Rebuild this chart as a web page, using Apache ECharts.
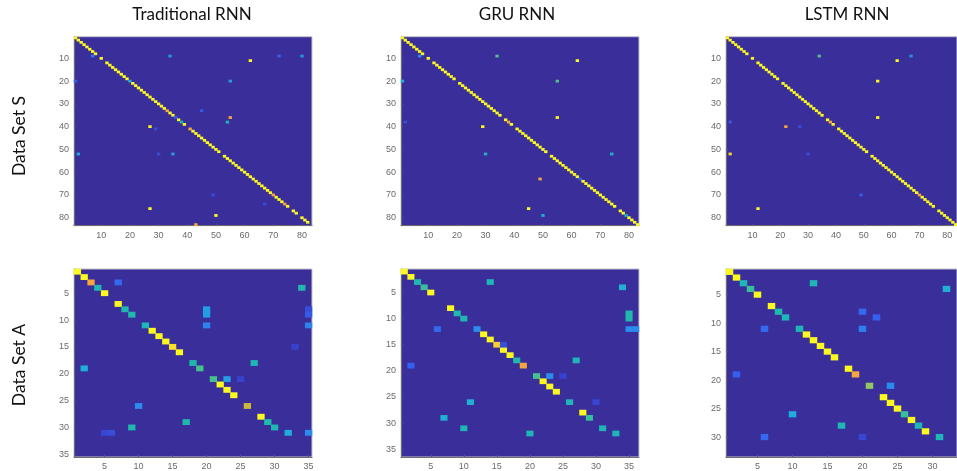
<!DOCTYPE html>
<html>
<head>
<meta charset="utf-8">
<style>
html,body{margin:0;padding:0;background:#fff;overflow:hidden}
#chart{width:957px;height:471px;filter:blur(0.35px)}
</style>
<script src="https://cdn.jsdelivr.net/npm/echarts@6/dist/echarts.min.js"></script>
</head>
<body>
<div id="chart"></div>
<script>
const columnTitles = ['Traditional RNN', 'GRU RNN', 'LSTM RNN'];
const rowTitles = ['Data Set S', 'Data Set A'];
const colorStops = ['#3A2E9B','#3A3BC4','#3560EE','#2A8CEC','#1FAEDC','#1FB8AC','#4EC388','#92C660','#CDB83A','#F7A63F','#FBF91F'];

const ticksS = [10,20,30,40,50,60,70,80];
const ticksA = [5,10,15,20,25,30,35];
const ticksA3 = [5,10,15,20,25,30];

const diagS1 = [1,1,1,1,1,1,1,1,0,1, 0,1,1,1,1,1,1,1,1,.4, 1,1,1,1,1,1,1,1,1,1, 1,1,.9,1,1,.2,1,.5,1,0,
  .9,1,1,1,1,1,1,1,1,1, 1,0,1,1,1,1,1,1,1,1, 1,1,1,1,1,1,1,1,1,.9, 1,1,1,.9,1,0,1,1,0,1, 1,1,0];
const offS1 = [[7,9,.25],[34,9,.32],[72,9,.2],[80,9,.32],[62,11,1],[1,20,.2],[55,20,.35],[45,33,.18],[55,36,.9],[54,38,.5],[27,40,1],[29,41,.15],[2,52,.38],[30,52,.15],[35,52,.35],[49,70,.15],[67,74,.15],[27,76,1],[50,79,1],[43,83,.9]];

const diagS2 = [1,1,1,1,1,1,1,1,0,1, 0,1,1,1,1,1,1,1,1,0, 1,1,1,1,1,1,1,1,1,1, 1,1,1,1,1,0,1,.9,1,0,
  1,1,1,1,1,1,1,1,1,1, 1,0,1,1,1,1,1,1,1,1, 1,1,.2,1,1,1,1,1,1,1, 1,1,1,1,1,0,1,1,.45,1, 1,1,1];
const offS2 = [[7,9,.3],[34,9,.6],[62,11,1],[1,20,.42],[55,20,.6],[55,36,1],[2,38,.15],[29,40,1],[30,52,.45],[74,52,.45],[49,63,.9],[45,76,1],[50,79,.42]];

const diagS3 = [1,1,1,1,1,1,1,1,0,1, 0,1,1,1,1,1,1,1,1,0, 1,1,1,1,1,1,1,1,1,1, 1,1,1,1,1,0,1,.9,1,0,
  1,1,1,1,1,1,1,1,1,1, 1,0,1,1,1,1,1,1,1,1, 1,1,1,1,1,1,1,1,1,.9, 1,1,1,1,1,0,1,1,1,1, 1,1,1];
const offS3 = [[34,9,.6],[67,9,.32],[62,11,1],[55,20,1],[55,36,1],[2,38,.18],[22,40,.9],[27,40,.15],[2,52,.95],[30,52,.15],[49,70,.2],[12,76,1]];

const diagA1 = [1,1,.9,.48,1,0,1,.5,.5,0, .48,1,1,1,.97,1,0,.5,.58,0, .58,1,1,1,0,.8,0,1,.5,.5, 0,0,0,0,0];
const offA1 = [[7,3,.22],[34,4,.5],[20,8,.35],[20,9,.35],[35,8,.15],[35,9,.18],[20,11,.28],[35,11,.28],[33,15,.12],[27,18,.48],[2,19,.4],[23,21,.35],[25,21,.12],[10,26,.3],[17,29,.5],[9,30,.5],[5,31,.13],[6,31,.15],[32,31,.4],[35,31,.3]];

const diagA2 = [1,1,.5,.55,1,0,0,1,.5,.5, 0,.3,1,1,.95,1,1,.5,.9,0, .58,1,1,1,0,.48,0,1,.55,0, .48,0,0,0,0,0];
const offA2 = [[14,3,.48],[34,4,.42],[35,9,.5],[35,10,.5],[6,12,.22],[35,12,.3],[36,12,.3],[16,15,.15],[27,18,.48],[2,19,.2],[23,21,.3],[25,21,.12],[11,26,.42],[30,26,.13],[7,29,.42],[10,31,.48],[33,32,.48],[20,32,.48]];

const diagA3 = [1,1,.48,.55,1,0,1,.5,.48,0, .48,1,1,1,1,1,0,1,.9,0, .7,0,1,1,1,.55,1,.48,1,0, 0,0,0];
const offA3 = [[13,3,.48],[32,4,.42],[20,8,.22],[22,9,.2],[6,11,.22],[20,11,.27],[2,19,.2],[24,21,.3],[10,26,.4],[17,28,.48],[6,30,.22],[20,30,.13],[31,30,.48]];

const panels = [
  {diag:diagS1, off:offS1, n:83, xt:ticksS, yt:ticksS, left:74,  top:36.7, w:238, h:189},
  {diag:diagS2, off:offS2, n:83, xt:ticksS, yt:ticksS, left:401, top:36.7, w:238, h:189},
  {diag:diagS3, off:offS3, n:83, xt:ticksS, yt:ticksS, left:726, top:36.7, w:238, h:189},
  {diag:diagA1, off:offA1, n:35, xt:ticksA, yt:ticksA, left:74,  top:269,  w:238, h:188.5},
  {diag:diagA2, off:offA2, n:36, xt:ticksA, yt:ticksA, left:401, top:269,  w:238, h:188.5},
  {diag:diagA3, off:offA3, n:33, xt:ticksA3, yt:ticksA3, left:726, top:269, w:238, h:188.5}
];

const grid = [], xAxis = [], yAxis = [], series = [];
panels.forEach((p, i) => {
  const cats = Array.from({length:p.n}, (_, k) => String(k + 1));
  grid.push({left:p.left, top:p.top, width:p.w, height:p.h, show:true, borderColor:'#c4c4c4', borderWidth:1, backgroundColor:colorStops[0], containLabel:false});
  const mk = (ticks, inverse) => ({
    type:'category', gridIndex:i, data:cats, inverse:inverse, boundaryGap:true,
    axisLine:{show:true, onZero:false, lineStyle:{color:'#6e6e6e', width:1}},
    axisTick:{show:true, inside:true, length:2, alignWithLabel:true, interval:(idx) => ticks.includes(idx + 1), lineStyle:{color:'#55508f', width:1}},
    axisLabel:{show:true, interval:(idx) => ticks.includes(idx + 1), color:'#6a6a6a', fontSize:9, fontFamily:'Liberation Sans', margin:5, hideOverlap:false},
    splitLine:{show:false}, splitArea:{show:false}
  });
  xAxis.push(mk(p.xt, false));
  yAxis.push(mk(p.yt, true));
  const data = [];
  p.diag.forEach((v, k) => { if (v > 0) data.push([k, k, v]); });
  p.off.forEach(c => data.push([c[0] - 1, c[1] - 1, c[2]]));
  series.push({type:'heatmap', xAxisIndex:i, yAxisIndex:i, data:data, progressive:0, animation:false, emphasis:{disabled:true}, itemStyle:{borderWidth:0}});
});

const titleX = [192, 517, 847];
const rowY = [136, 365];
const graphic = [];
columnTitles.forEach((t, i) => graphic.push({type:'text', x:titleX[i], y:15, style:{text:t, font:'17px Lato', fill:'#111', textAlign:'center', textVerticalAlign:'middle'}}));
rowTitles.forEach((t, i) => graphic.push({type:'text', x:19, y:rowY[i], rotation:Math.PI/2, style:{text:t, font:'17.5px Lato', fill:'#111', textAlign:'center', textVerticalAlign:'middle'}}));

const chart = echarts.init(document.getElementById('chart'), null, {renderer:'canvas', width:957, height:471});
chart.setOption({
  animation:false,
  tooltip:{show:false},
  grid, xAxis, yAxis, series, graphic,
  visualMap:{show:false, type:'continuous', min:0, max:1, seriesIndex:[0,1,2,3,4,5], inRange:{color:colorStops}}
});
</script>
</body>
</html>
